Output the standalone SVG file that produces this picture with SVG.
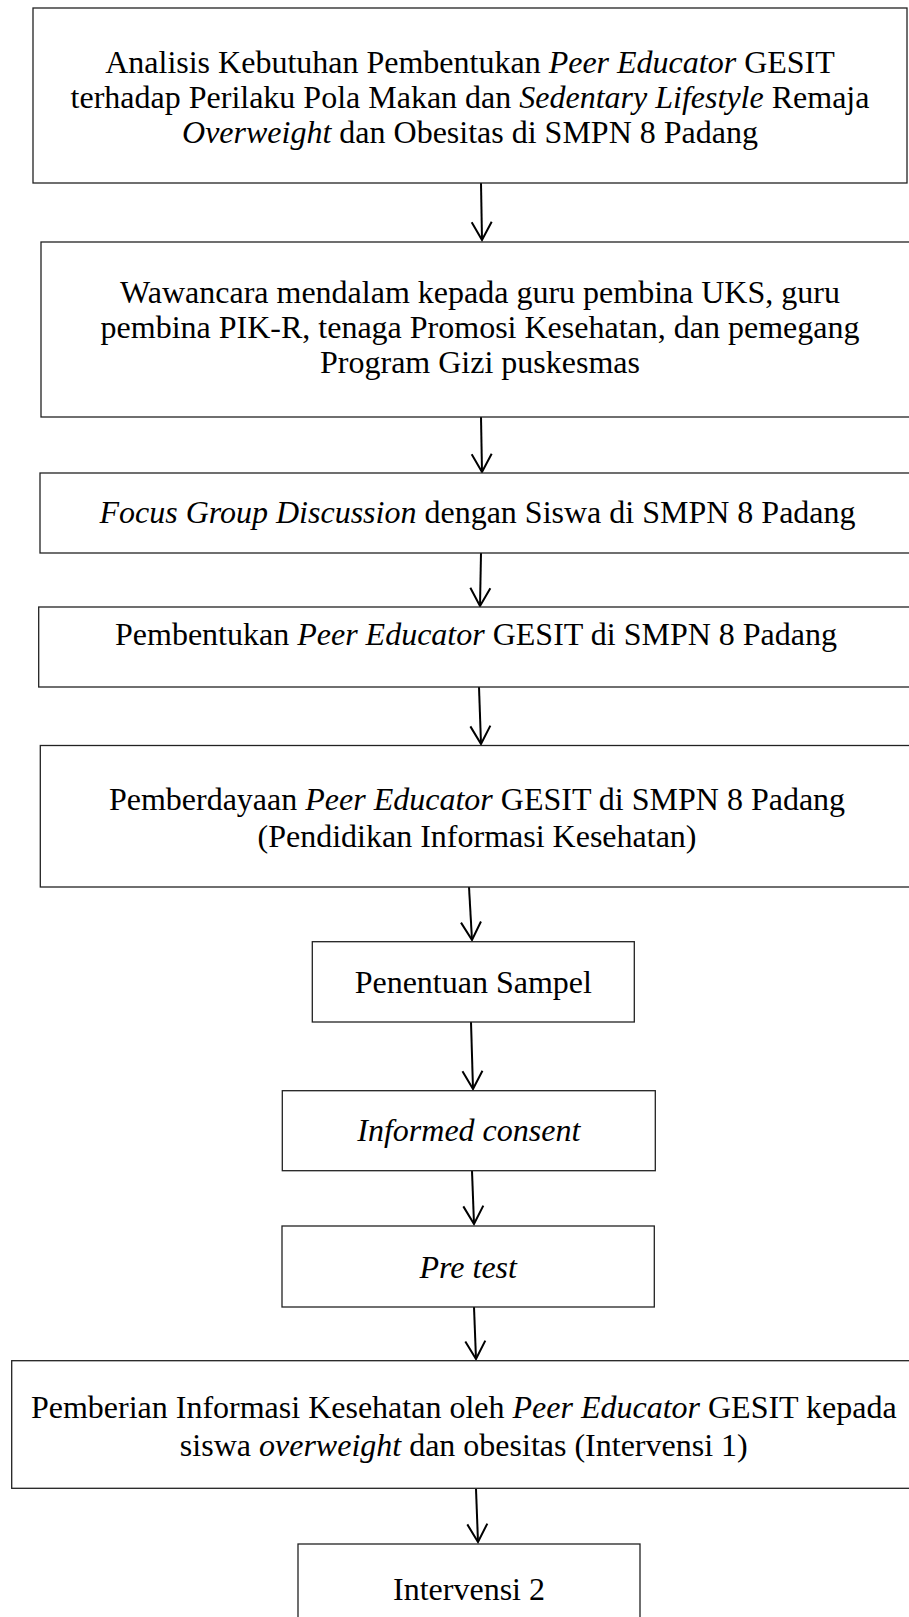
<svg xmlns="http://www.w3.org/2000/svg" width="909" height="1617" viewBox="0 0 909 1617">
<defs>
<style>
.box{fill:#fff;stroke:#222;stroke-width:1.3}
.t{font-family:"Liberation Serif","Times New Roman",serif;font-size:32px;fill:#000;text-anchor:middle}
.i{font-style:italic}
.c{fill:none;stroke:#000;stroke-width:2}
</style>
<marker id="arr" markerUnits="userSpaceOnUse" viewBox="-20 -12 22 24" refX="0" refY="0" markerWidth="22" markerHeight="24" orient="auto">
<path d="M-18,-10 L0,0 L-18,10" fill="none" stroke="#000" stroke-width="2"/>
</marker>
</defs>
<rect width="909" height="1617" fill="#fff"/>
<g id="connectors">
<line class="c" x1="481" y1="183" x2="482" y2="240" marker-end="url(#arr)"/>
<line class="c" x1="481" y1="417" x2="482" y2="472" marker-end="url(#arr)"/>
<line class="c" x1="481" y1="553" x2="480" y2="606" marker-end="url(#arr)"/>
<line class="c" x1="479" y1="687" x2="481" y2="744" marker-end="url(#arr)"/>
<line class="c" x1="469" y1="887" x2="472" y2="940" marker-end="url(#arr)"/>
<line class="c" x1="471" y1="1022" x2="473" y2="1089" marker-end="url(#arr)"/>
<line class="c" x1="472" y1="1171" x2="474" y2="1224" marker-end="url(#arr)"/>
<line class="c" x1="474" y1="1307" x2="476" y2="1359" marker-end="url(#arr)"/>
<line class="c" x1="476" y1="1489" x2="478" y2="1542" marker-end="url(#arr)"/>
</g>
<g id="n1">
<rect class="box" x="33" y="8" width="874" height="175"/>
<text class="t" x="470" y="73">Analisis Kebutuhan Pembentukan <tspan class="i">Peer Educator</tspan> GESIT</text>
<text class="t" x="470" y="108">terhadap Perilaku Pola Makan dan <tspan class="i">Sedentary Lifestyle</tspan> Remaja</text>
<text class="t" x="470" y="143"><tspan class="i">Overweight</tspan> dan Obesitas di SMPN 8 Padang</text>
</g>
<g id="n2">
<rect class="box" x="41" y="242" width="878" height="175"/>
<text class="t" x="480" y="303">Wawancara mendalam kepada guru pembina UKS, guru</text>
<text class="t" x="480" y="338">pembina PIK-R, tenaga Promosi Kesehatan, dan pemegang</text>
<text class="t" x="480" y="373">Program Gizi puskesmas</text>
</g>
<g id="n3">
<rect class="box" x="40" y="473" width="875" height="80"/>
<text class="t" x="477.5" y="523"><tspan class="i">Focus Group Discussion</tspan> dengan Siswa di SMPN 8 Padang</text>
</g>
<g id="n4">
<rect class="box" x="38.7" y="607" width="874" height="80"/>
<text class="t" x="476" y="645">Pembentukan <tspan class="i">Peer Educator</tspan> GESIT di SMPN 8 Padang</text>
</g>
<g id="n5">
<rect class="box" x="40.3" y="745.5" width="874" height="141.5"/>
<text class="t" x="477" y="809.5">Pemberdayaan <tspan class="i">Peer Educator</tspan> GESIT di SMPN 8 Padang</text>
<text class="t" x="477" y="846.5">(Pendidikan Informasi Kesehatan)</text>
</g>
<g id="n6">
<rect class="box" x="312.3" y="941.7" width="322" height="80.3"/>
<text class="t" x="473.3" y="992.5">Penentuan Sampel</text>
</g>
<g id="n7">
<rect class="box" x="282.3" y="1090.7" width="373" height="80"/>
<text class="t i" x="468.8" y="1140.5">Informed consent</text>
</g>
<g id="n8">
<rect class="box" x="282" y="1226" width="372.3" height="81"/>
<text class="t i" x="468.2" y="1277.5">Pre test</text>
</g>
<g id="n9">
<rect class="box" x="11.7" y="1360.7" width="904" height="127.6"/>
<text class="t" x="463.8" y="1418">Pemberian Informasi Kesehatan oleh <tspan class="i">Peer Educator</tspan> GESIT kepada</text>
<text class="t" x="463.8" y="1456">siswa <tspan class="i">overweight</tspan> dan obesitas (Intervensi 1)</text>
</g>
<g id="n10">
<rect class="box" x="298" y="1544" width="342" height="90"/>
<text class="t" x="469" y="1600">Intervensi 2</text>
</g>
</svg>
